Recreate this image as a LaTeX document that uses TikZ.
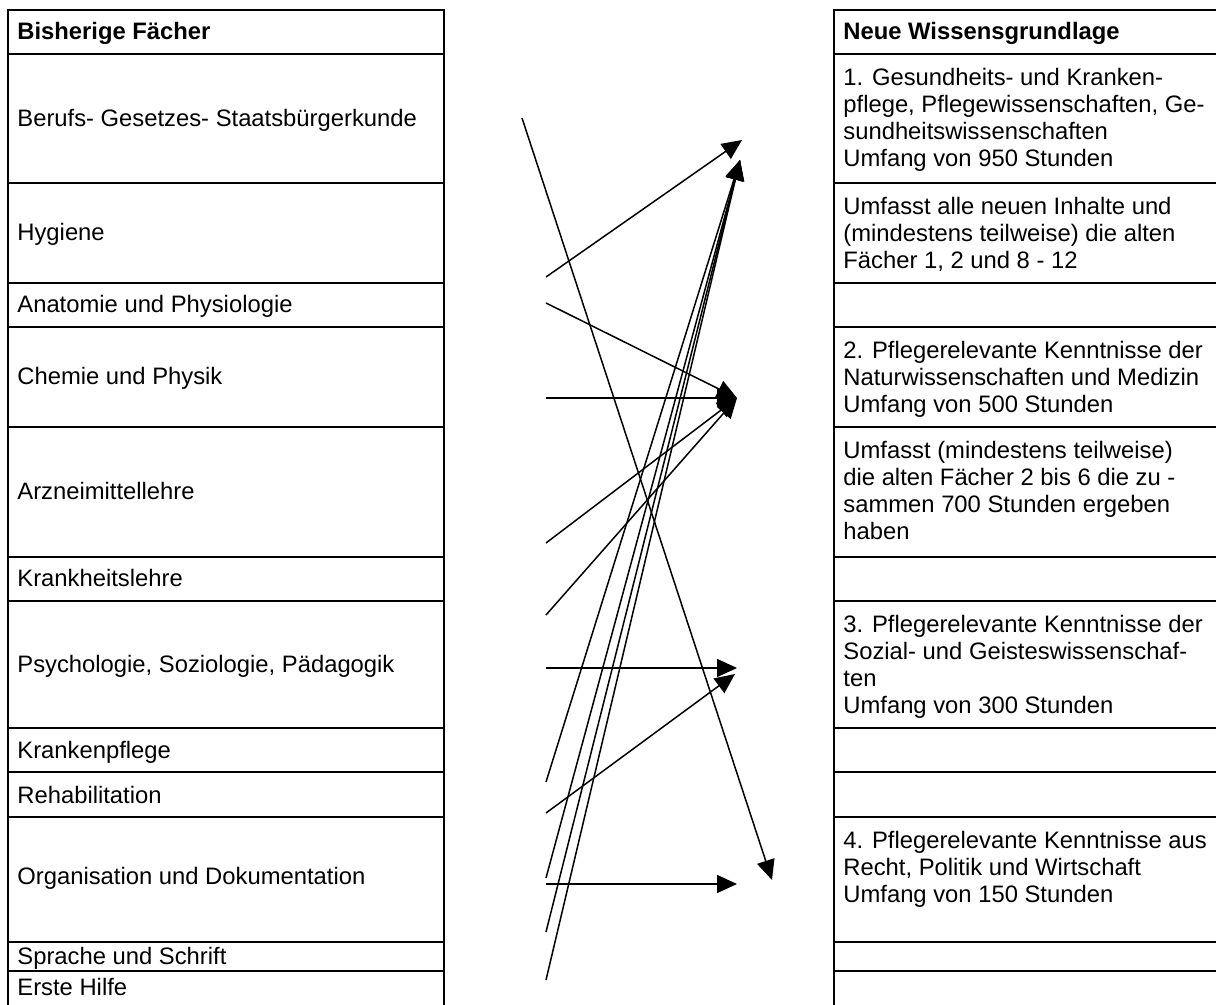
\documentclass[tikz,border=0pt]{standalone}
\usepackage{fontspec}
\setmainfont{Liberation Sans}
\usetikzlibrary{positioning,arrows.meta}

\newcommand{\tabfont}{\fontsize{11.9}{13.5}\selectfont}

\begin{document}
\begin{tikzpicture}[x=0.5pt,y=-0.5pt,
  fach/.style={anchor=base west, inner sep=0pt, font=\tabfont},
  neu/.style={anchor=north west, inner sep=0pt, align=left, font=\tabfont},
  linie/.style={line width=1pt},
  pfeil/.style={line width=0.75pt, -{Triangle[length=10pt,width=9pt]}}]
\useasboundingbox (0,0) rectangle (1216,1005);

% alte Faecher
\draw[linie] (8,1005) -- (8,10) -- (444,10) -- (444,1005);
\foreach \y in {54,183,283,327,427,557,601,728,772,817,942,971}
  \draw[linie] (8,\y) -- (444,\y);
\node[fach, font=\tabfont\bfseries] (kopfalt) at (17,40) {Bisherige Fächer};
\node[fach] (beruf) at (17,127) {Berufs- Gesetzes- Staatsbürgerkunde};
\node[fach] (hyg) at (17,241) {Hygiene};
\node[fach] (anat) at (17,313) {Anatomie und Physiologie};
\node[fach] (chem) at (17,385) {Chemie und Physik};
\node[fach] (arznei) at (17,500) {Arzneimittellehre};
\node[fach] (krank) at (17,587) {Krankheitslehre};
\node[fach] (psych) at (17,672) {Psychologie, Soziologie, Pädagogik};
\node[fach] (pflege) at (17,758) {Krankenpflege};
\node[fach] (reha) at (17,803) {Rehabilitation};
\node[fach] (orga) at (17,884) {Organisation und Dokumentation};
\node[fach] (sprache) at (17,964) {Sprache und Schrift};
\node[fach] (hilfe) at (17,995) {Erste Hilfe};

% neue Wissensgrundlage
\draw[linie] (834,1005) -- (834,10) -- (1216,10);
\foreach \y in {54,183,283,327,427,557,601,728,772,817,942,971}
  \draw[linie] (834,\y) -- (1216,\y);
\node[fach, font=\tabfont\bfseries] (kopfneu) at (843,40) {Neue Wissensgrundlage};
\node[neu] (neu1) at (843,68) {1. Gesundheits- und Kranken-\\pflege, Pflegewissenschaften, Ge-\\sundheitswissenschaften\\Umfang von 950 Stunden};
\node[neu] (alt1) at (843,197) {Umfasst alle neuen Inhalte und\\(mindestens teilweise) die alten\\Fächer 1, 2 und 8 - 12};
\node[neu] (neu2) at (843,341) {2. Pflegerelevante Kenntnisse der\\Naturwissenschaften und Medizin\\Umfang von 500 Stunden};
\node[neu] (alt2) at (843,441) {Umfasst (mindestens teilweise)\\die alten Fächer 2 bis 6 die zu -\\sammen 700 Stunden ergeben\\haben};
\node[neu] (neu3) at (843,615) {3. Pflegerelevante Kenntnisse der\\Sozial- und Geisteswissenschaf-\\ten\\Umfang von 300 Stunden};
\node[neu] (neu4) at (843,831) {4. Pflegerelevante Kenntnisse aus\\Recht, Politik und Wirtschaft\\Umfang von 150 Stunden};

% Anfangs- und Endpunkte der Pfeile
\coordinate (a-beruf) at (522,118);
\coordinate (a-hyg) at (546,277);
\coordinate (a-anat) at (546,303);
\coordinate (a-chem) at (546,398);
\coordinate (a-arznei) at (546,543);
\coordinate (a-krank) at (546,615);
\coordinate (a-psych) at (546,668);
\coordinate (a-pflege) at (546,782);
\coordinate (a-reha) at (546,813);
\coordinate (a-orga) at (546,878);
\coordinate (b-orga) at (546,884);
\coordinate (a-sprache) at (546,932);
\coordinate (a-hilfe) at (546,980);
\coordinate (z1a) at (742,140);
\coordinate (z1b) at (740,160);
\coordinate (z2) at (737,398);
\coordinate (z3) at (737,668);
\coordinate (z3b) at (735,674);
\coordinate (z4) at (737,884);
\coordinate (z4b) at (772,880);

\draw[pfeil] (a-beruf) -- (z4b);
\draw[pfeil] (a-hyg) -- (z1a);
\draw[pfeil] (a-anat) -- (z2);
\draw[pfeil] (a-chem) -- (z2);
\draw[pfeil] (a-arznei) -- (z2);
\draw[pfeil] (a-krank) -- (z2);
\draw[pfeil] (a-psych) -- (z3);
\draw[pfeil] (a-pflege) -- (z1b);
\draw[pfeil] (a-reha) -- (z3b);
\draw[pfeil] (a-orga) -- (z1b);
\draw[pfeil] (b-orga) -- (z4);
\draw[pfeil] (a-sprache) -- (z1b);
\draw[pfeil] (a-hilfe) -- (z1b);
\end{tikzpicture}
\end{document}
